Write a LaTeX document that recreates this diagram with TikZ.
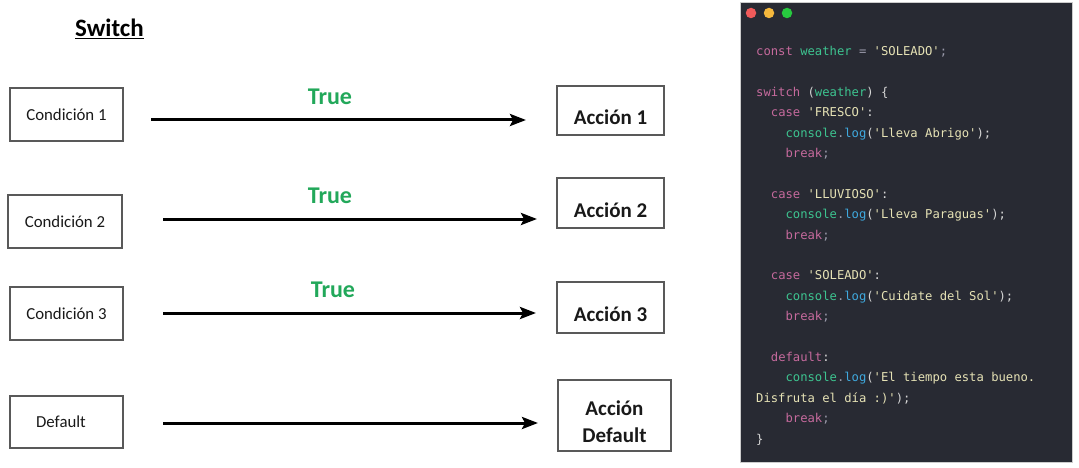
\documentclass[tikz,border=0pt]{standalone}
\usepackage{fontspec}
\usetikzlibrary{arrows.meta}
\setmainfont{Carlito}
\newfontfamily\codefont{DejaVu Sans Mono}
\definecolor{panelbg}{HTML}{282A33}
\definecolor{kwc}{HTML}{C66A9D}
\definecolor{idc}{HTML}{3DC490}
\definecolor{strc}{HTML}{E6E2B5}
\definecolor{punc}{HTML}{D6D6D6}
\definecolor{opc}{HTML}{9A9AAA}
\definecolor{fnc}{HTML}{3FA9DE}
\definecolor{truegreen}{HTML}{22A85A}
\definecolor{dotred}{HTML}{F05A5A}
\definecolor{dotyellow}{HTML}{F5B83D}
\definecolor{dotgreen}{HTML}{27C93F}
\newcommand{\ckw}[1]{\textcolor{kwc}{#1}}
\newcommand{\cid}[1]{\textcolor{idc}{#1}}
\newcommand{\cstr}[1]{\textcolor{strc}{#1}}
\newcommand{\cpun}[1]{\textcolor{punc}{#1}}
\newcommand{\cop}[1]{\textcolor{opc}{#1}}
\newcommand{\cfn}[1]{\textcolor{fnc}{#1}}
\tikzset{
  condbox/.style={draw=black!65, line width=1.1pt, fill=white, inner sep=0pt,
    font=\fontsize{16.8}{19}\selectfont, text=black!90},
  actbox/.style={draw=black!65, line width=1.1pt, fill=white, inner sep=0pt,
    font=\bfseries\fontsize{21}{27}\selectfont, text=black!90, align=center},
  actone/.style={actbox, text height=28pt, text depth=0pt},
  truelbl/.style={font=\bfseries\fontsize{24}{26}\selectfont, text=truegreen, inner sep=0pt},
  flow/.style={line width=3pt, -{Stealth[length=16pt,width=12pt,inset=3pt]}},
  codeline/.style={anchor=base west, inner sep=0pt, font=\codefont\fontsize{12.2}{14}\selectfont},
  dot/.style={circle, inner sep=0pt, minimum size=10.5pt}
}
\begin{document}
\begin{tikzpicture}[x=1pt,y=-1pt]
\useasboundingbox[fill=white] (0,0) rectangle (1079,468);

% title
\node[font=\bfseries\fontsize{25}{27}\selectfont, inner sep=0pt] (title) at (109.5,29) {\underline{Switch}};

% condition boxes
\node[condbox, minimum width=113pt, minimum height=53pt] (c1) at (66.5,114.5) {Condición 1};
\node[condbox, minimum width=114pt, minimum height=53pt] (c2) at (65,221.5) {Condición 2};
\node[condbox, minimum width=113pt, minimum height=53pt] (c3) at (66.5,313.5) {Condición 3};
\node[condbox, minimum width=113pt, minimum height=52pt] (c4) at (66.5,422) {Default\kern11pt};

% action boxes
\node[actone, minimum width=107pt, minimum height=49pt] (a1) at (610.5,110.5) {Acción 1};
\node[actone, minimum width=107pt, minimum height=50pt] (a2) at (610.5,203) {Acción 2};
\node[actone, minimum width=107pt, minimum height=51pt] (a3) at (610.5,307.5) {Acción 3};
\node[actbox, minimum width=113pt, minimum height=71pt] (a4) at (614.5,415.5) {\rule{0pt}{28pt}Acción\\Default};

% arrow end points
\coordinate (s1) at (151,120);  \coordinate (e1) at (526,120);
\coordinate (s2) at (163,219);  \coordinate (e2) at (537,219);
\coordinate (s3) at (163,313);  \coordinate (e3) at (536,313);
\coordinate (s4) at (163,423);  \coordinate (e4) at (538,423);
\draw[flow] (s1) -- (e1);
\draw[flow] (s2) -- (e2);
\draw[flow] (s3) -- (e3);
\draw[flow] (s4) -- (e4);

\node[truelbl] (t1) at (330,97) {True};
\node[truelbl] (t2) at (330,196) {True};
\node[truelbl] (t3) at (333,290) {True};

% code panel
\node[draw=black!20, line width=0.8pt, fill=panelbg, minimum width=332pt, minimum height=460pt, inner sep=0pt] (panel) at (906,232) {};
\node[dot, fill=dotred] (d1) at (751,13) {};
\node[dot, fill=dotyellow] (d2) at (769,13) {};
\node[dot, fill=dotgreen] (d3) at (787,13) {};

\node[codeline] (l1) at (756,55.5) {\ckw{const} \cid{weather} \cop{=} \cstr{'SOLEADO'}\cop{;}};
\node[codeline] (l2) at (756,96.3) {\ckw{switch} \cpun{(}\cid{weather}\cpun{)} \cpun{\{}};
\node[codeline] (l3) at (770.7,116.7) {\ckw{case} \cstr{'FRESCO'}\cpun{:}};
\node[codeline] (l4) at (785.4,137.1) {\cid{console}\cop{.}\cfn{log}\cpun{(}\cstr{'Lleva Abrigo'}\cpun{);}};
\node[codeline] (l5) at (785.4,157.5) {\ckw{break}\cop{;}};
\node[codeline] (l6) at (770.7,198.3) {\ckw{case} \cstr{'LLUVIOSO'}\cpun{:}};
\node[codeline] (l7) at (785.4,218.7) {\cid{console}\cop{.}\cfn{log}\cpun{(}\cstr{'Lleva Paraguas'}\cpun{);}};
\node[codeline] (l8) at (785.4,239.1) {\ckw{break}\cop{;}};
\node[codeline] (l9) at (770.7,279.9) {\ckw{case} \cstr{'SOLEADO'}\cpun{:}};
\node[codeline] (l10) at (785.4,300.3) {\cid{console}\cop{.}\cfn{log}\cpun{(}\cstr{'Cuidate del Sol'}\cpun{);}};
\node[codeline] (l11) at (785.4,320.7) {\ckw{break}\cop{;}};
\node[codeline] (l12) at (770.7,361.5) {\ckw{default}\cpun{:}};
\node[codeline] (l13) at (785.4,381.9) {\cid{console}\cop{.}\cfn{log}\cpun{(}\cstr{'El tiempo esta bueno.}};
\node[codeline] (l14) at (756,402.3) {\cstr{Disfruta el día :)'}\cpun{);}};
\node[codeline] (l15) at (785.4,422.7) {\ckw{break}\cop{;}};
\node[codeline] (l16) at (756,443.1) {\cpun{\}}};
\end{tikzpicture}
\end{document}
